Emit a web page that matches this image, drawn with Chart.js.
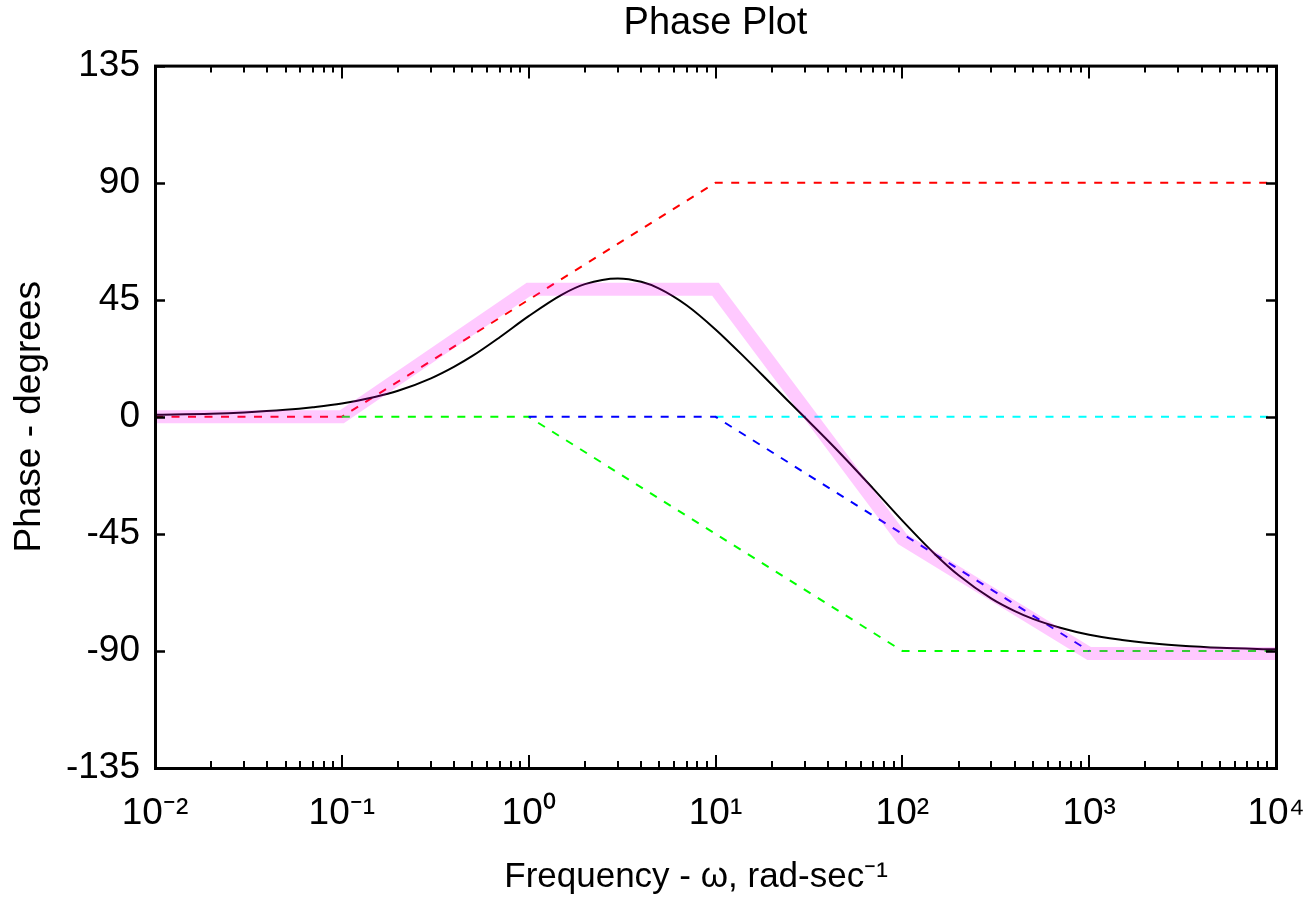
<!DOCTYPE html>
<html>
<head>
<meta charset="utf-8">
<script src="https://cdn.jsdelivr.net/npm/chart.js@4.4.1/dist/chart.umd.min.js"></script>
<style>
  html, body { margin: 0; padding: 0; background: #ffffff; }
  canvas { display: block; }
</style>
</head>
<body>
<canvas id="c" width="1306" height="897"></canvas>
<script>
// ---- data ----
const xTickValues = [0.01, 0.1, 1, 10, 100, 1000, 10000];
const xTickLabels = ['10\u207B\u00B2', '10\u207B\u00B9', '10\u2070', '10\u00B9', '10\u00B2', '10\u00B3', '10\u2074'];
const yTickValues = [-135, -90, -45, 0, 45, 90, 135];
const yTickLabels = ['-135', '-90', '-45', '0', '45', '90', '135'];

// asymptote of the zero (red)
const redFreq  = [0.01, 0.1, 10, 10000];
const redPhase = [0, 0, 90, 90];
// asymptote of the first pole (green)
const greenFreq  = [0.1, 1, 100, 10000];
const greenPhase = [0, 0, -90, -90];
// asymptote of the second pole (blue)
const blueFreq  = [1, 10, 1000];
const bluePhase = [0, 0, -90];
// constant gain term (cyan)
const cyanFreq  = [10, 10000];
const cyanPhase = [0, 0];
// composite straight-line approximation (pink band)
const pinkFreq  = [0.01, 0.1, 1, 10, 100, 1000, 10000];
const pinkPhase = [0, 0, 49, 49, -47, -91, -91];
// actual phase curve (black)
const blackFreq  = [0.01, 0.02, 0.03, 0.05, 0.07, 0.1, 0.15, 0.2, 0.3, 0.4, 0.5, 0.7, 1, 1.5, 2, 3, 4, 5, 7, 10, 15, 20, 30, 40, 50, 70, 100, 150, 200, 300, 400, 500, 700, 1000, 1500, 2000, 3000, 5000, 10000];
const blackPhase = [0.8, 1.2, 1.7, 2.7, 3.7, 5.1, 7.6, 10.0, 14.8, 19.3, 23.4, 30.6, 38.7, 46.9, 51.0, 53.2, 51.9, 49.3, 42.9, 33.6, 21.4, 12.4, -0.2, -9.2, -16.4, -27.7, -39.9, -52.9, -60.9, -69.9, -74.7, -77.7, -81.1, -83.8, -85.8, -86.9, -87.9, -88.8, -89.4];

const titleText = 'Phase Plot';
const xTitle = 'Frequency - \u03C9, rad-sec\u207B\u00B9';
const yTitle = 'Phase - degrees';

// ---- helpers ----
const pts = (xs, ys) => xs.map((x, i) => ({ x: x, y: ys[i] }));
const FONT = "'Liberation Sans', Arial, Helvetica, sans-serif";

const dashed = (label, xs, ys, color, order) => ({
  label, data: pts(xs, ys), borderColor: color, backgroundColor: color,
  borderWidth: 2, borderDash: [8, 8.5], pointRadius: 0, tension: 0, fill: false, order
});

const frameAndTicks = {
  id: 'frameAndTicks',
  afterDatasetsDraw(chart) {
    const { ctx, chartArea: a, scales } = chart;
    const xs = scales.x, ys = scales.y;
    ctx.save();
    ctx.strokeStyle = '#000';
    // minor + major ticks on x (top and bottom, inward)
    ctx.lineWidth = 2;
    for (let e = -2; e <= 4; e++) {
      for (let m = 1; m <= 9; m++) {
        const v = m * Math.pow(10, e);
        if (v > 10000 + 1e-9) break;
        const px = Math.round(xs.getPixelForValue(v));
        const len = (m === 1) ? 13 : 7;
        ctx.beginPath();
        ctx.moveTo(px, a.bottom); ctx.lineTo(px, a.bottom - len);
        ctx.moveTo(px, a.top); ctx.lineTo(px, a.top + len);
        ctx.stroke();
      }
    }
    // y ticks (left and right, inward)
    ctx.lineWidth = 2.5;
    yTickValues.forEach(v => {
      const py = Math.round(ys.getPixelForValue(v)) + 0.5;
      ctx.beginPath();
      ctx.moveTo(a.left, py); ctx.lineTo(a.left + 10, py);
      ctx.moveTo(a.right, py); ctx.lineTo(a.right - 10, py);
      ctx.stroke();
    });
    // frame
    ctx.lineWidth = 3;
    ctx.strokeRect(a.left + 0.5, a.top + 0.5, a.right - a.left, a.bottom - a.top);
    ctx.restore();
  }
};

new Chart(document.getElementById('c'), {
  type: 'line',
  data: {
    datasets: [
      { label: 'approximation', data: pts(pinkFreq, pinkPhase), borderColor: 'rgba(255,0,255,0.21)',
        borderWidth: 13, pointRadius: 0, tension: 0, fill: false, order: 0,
        borderJoinStyle: 'miter', borderCapStyle: 'butt' },
      { label: 'phase', data: pts(blackFreq, blackPhase), borderColor: '#000000', borderWidth: 2,
        pointRadius: 0, cubicInterpolationMode: 'monotone', fill: false, order: 1 },
      dashed('pole 2', blueFreq, bluePhase, '#0000ff', 2),
      dashed('pole 1', greenFreq, greenPhase, '#00ff00', 3),
      dashed('gain', cyanFreq, cyanPhase, '#00ffff', 4),
      dashed('zero', redFreq, redPhase, '#ff0000', 5)
    ]
  },
  options: {
    responsive: false,
    animation: false,
    devicePixelRatio: 1,
    layout: { padding: { left: 0, right: 30, top: 0, bottom: 0 } },
    plugins: {
      legend: { display: false },
      tooltip: { enabled: false },
      title: {
        display: true, text: titleText, color: '#000', fullSize: false,
        font: { family: FONT, size: 38, weight: 'normal', lineHeight: 1.2 },
        padding: { top: 1, bottom: 19 }
      }
    },
    scales: {
      x: {
        type: 'logarithmic', position: 'bottom', min: 0.01, max: 10000,
        grid: { display: false, drawTicks: false },
        border: { display: false },
        afterBuildTicks: s => { s.ticks = xTickValues.map(v => ({ value: v })); },
        afterFit: s => { s.height = 129; s.paddingLeft = 0; s.paddingRight = 0; },
        ticks: {
          autoSkip: false, maxRotation: 0, minRotation: 0, padding: 24, color: '#000',
          font: { family: FONT, size: 37, lineHeight: 1.2 },
          callback: (v) => { const i = xTickValues.indexOf(v); return i >= 0 ? xTickLabels[i] : ''; }
        },
        title: {
          display: true, text: xTitle + '    ', color: '#000',
          font: { family: FONT, size: 35, lineHeight: 1.15 },
          padding: { top: 0, bottom: 0 }
        }
      },
      y: {
        type: 'linear', position: 'left', min: -135, max: 135,
        grid: { display: false, drawTicks: false },
        border: { display: false },
        afterBuildTicks: s => { s.ticks = yTickValues.map(v => ({ value: v })); },
        afterFit: s => { s.width = 155; s.paddingTop = 0; s.paddingBottom = 0; },
        ticks: {
          autoSkip: false, padding: 15, color: '#000',
          font: { family: FONT, size: 37, lineHeight: 1.2 },
          callback: (v) => { const i = yTickValues.indexOf(v); return i >= 0 ? yTickLabels[i] : ''; }
        },
        title: {
          display: true, text: yTitle, color: '#000',
          font: { family: FONT, size: 37, lineHeight: 1.1 },
          padding: { top: 9, bottom: 0 }
        }
      }
    }
  },
  plugins: [frameAndTicks]
});
</script>
</body>
</html>
